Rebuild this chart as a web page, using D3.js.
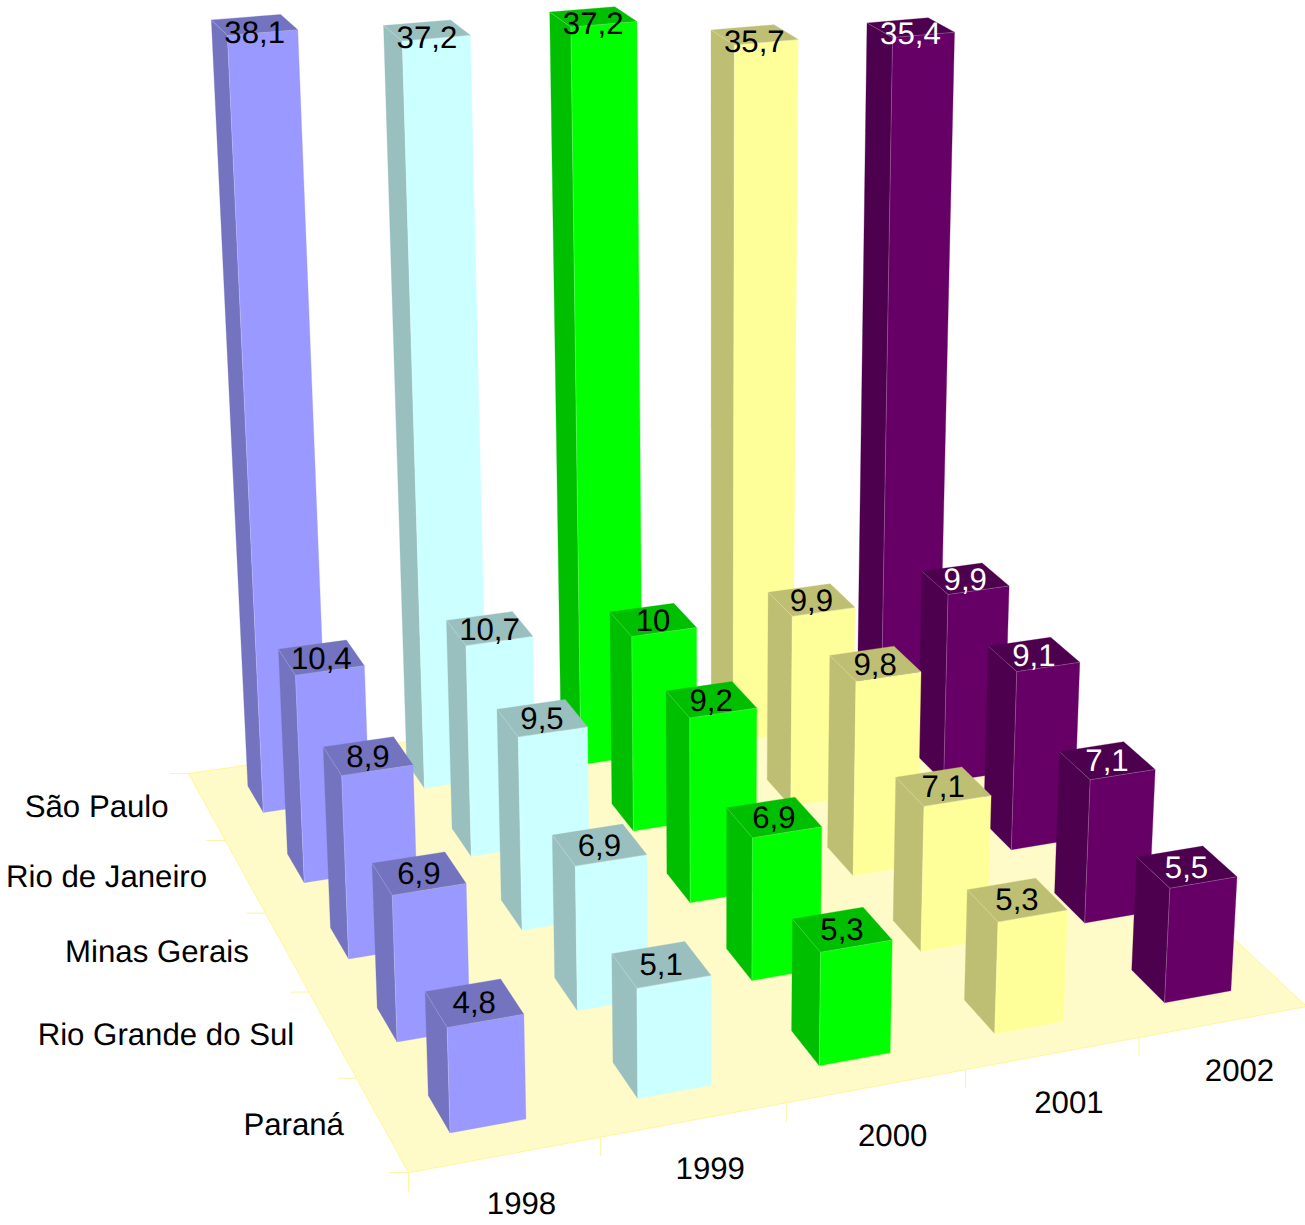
<!DOCTYPE html>
<html lang="pt"><head><meta charset="utf-8"><title>Participação por estado</title>
<script src="https://cdn.jsdelivr.net/npm/d3@7"></script>
<style>
html,body{margin:0;padding:0;background:#fff}
svg{display:block}
text{font-family:"Liberation Sans",Arial,sans-serif;font-size:31.2px;text-rendering:geometricPrecision}
</style></head><body>
<svg id="chart" width="1305" height="1225"></svg>
<script>
// Categories, front row of the floor first
const years = ["1998", "1999", "2000", "2001", "2002"];
const states = ["Paraná", "Rio Grande do Sul", "Minas Gerais", "Rio de Janeiro", "São Paulo"];

// Values per year, in the order of `states`
const values1998 = [4.8, 6.9, 8.9, 10.4, 38.1];
const values1999 = [5.1, 6.9, 9.5, 10.7, 37.2];
const values2000 = [5.3, 6.9, 9.2, 10, 37.2];
const values2001 = [5.3, 7.1, 9.8, 9.9, 35.7];
const values2002 = [5.5, 7.1, 9.1, 9.9, 35.4];
const seriesValues = [values1998, values1999, values2000, values2001, values2002];

// Front and label colours per year; sides and tops are a darker shade
const frontColors = ["#9999ff", "#ccffff", "#00ff00", "#ffff99", "#660066"];
const labelColors = ["#000", "#000", "#000", "#000", "#fff"];

const x = d3.scaleBand().domain(years).range([0, 5]);
const y = d3.scaleBand().domain(states).range([0, 5]);
const z = d3.scaleLinear().domain([0, 1]).range([0, 1]);
const darken = c => { const r = d3.rgb(c); return d3.rgb(r.r * .75, r.g * .75, r.b * .75).formatHex(); };

// Perspective camera: homogeneous 3×4 matrix from world units to the page
const cam = [
  [202.71874, -34.951456, -1.6765341, 408.61256],
  [-15.434361, -42.657139, -24.797654, 1172.6692],
  [0.017681418, 0.048021447, -0.0023436302, 1]
];
function project(X, Y, Z) {
  const h = r => r[0] * X + r[1] * Y + r[2] * Z + r[3];
  const w = h(cam[2]);
  return [h(cam[0]) / w, h(cam[1]) / w];
}

const svg = d3.select("#chart");
const polygon = pts => pts.map(p => p.map(n => n.toFixed(2)).join(",")).join(" ");
const tickLength = 19, edgeColor = "#fff59a";

// Floor with its edge
svg.append("polygon")
  .attr("points", polygon([project(0, 0, 0), project(5, 0, 0), project(5, 5, 0), project(0, 5, 0)]))
  .attr("fill", "#fffbc8").attr("stroke", edgeColor).attr("stroke-width", 1);

// Axis ticks along the two outer floor edges
const ticks = svg.append("g").attr("stroke", edgeColor).attr("stroke-width", 1);
ticks.selectAll("line.year").data(d3.range(0, 6)).join("line").attr("class", "year")
  .each(function (d) {
    const [a, b] = project(d, 0, 0);
    d3.select(this).attr("x1", a).attr("y1", b).attr("x2", a).attr("y2", b + tickLength);
  });
ticks.selectAll("line.state").data(d3.range(0, 6)).join("line").attr("class", "state")
  .each(function (d) {
    const [a, b] = project(0, d, 0);
    d3.select(this).attr("x1", a).attr("y1", b).attr("x2", a - tickLength).attr("y2", b);
  });

// Axis labels
svg.append("g").selectAll("text").data(years).join("text")
  .attr("text-anchor", "middle").attr("dominant-baseline", "central")
  .attr("x", d => project(x(d) + x.bandwidth() / 2, 0, 0)[0] + 16)
  .attr("y", d => project(x(d) + x.bandwidth() / 2, 0, 0)[1] + 49)
  .text(d => d);
svg.append("g").selectAll("text").data(states).join("text")
  .attr("text-anchor", "end").attr("dominant-baseline", "central")
  .attr("x", d => project(0, y(d) + y.bandwidth() / 2, 0)[0] - 38)
  .attr("y", d => project(0, y(d) + y.bandwidth() / 2, 0)[1])
  .text(d => d);

// One record per bar, painted from the far row to the near one, right to left
const half = 0.2;
const bars = [];
states.forEach((state, r) => years.forEach((year, c) =>
  bars.push({ state, year, c, r, value: seriesValues[c][r] })));
bars.sort((a, b) => d3.descending(a.r, b.r) || d3.descending(a.c, b.c));

const barGroups = svg.append("g").selectAll("g").data(bars).join("g");
barGroups.each(function (d) {
  const g = d3.select(this);
  const x0 = x(d.year) + .5 - half, x1 = x(d.year) + .5 + half;
  const y0 = y(d.state) + .5 - half, y1 = y(d.state) + .5 + half;
  const top = z(d.value), face = frontColors[d.c], side = darken(face);
  const faces = [
    { fill: side, pts: [[x0, y1, 0], [x0, y0, 0], [x0, y0, top], [x0, y1, top]] },
    { fill: face, pts: [[x0, y0, 0], [x1, y0, 0], [x1, y0, top], [x0, y0, top]] },
    { fill: side, pts: [[x0, y0, top], [x1, y0, top], [x1, y1, top], [x0, y1, top]] }
  ];
  g.selectAll("polygon").data(faces).join("polygon")
    .attr("points", f => polygon(f.pts.map(p => project(...p))))
    .attr("fill", f => f.fill)
    .attr("stroke", f => f.fill).attr("stroke-width", .3);

  // Fine highlight along the three edges that meet at the near top corner
  const corner = [x0, y0, top];
  const edges = [[x0, y0, 0], [x0, y1, top], [x1, y0, top]];
  g.selectAll("line").data(edges).join("line")
    .attr("x1", project(...corner)[0]).attr("y1", project(...corner)[1])
    .attr("x2", e => project(...e)[0]).attr("y2", e => project(...e)[1])
    .attr("stroke", "#fff").attr("stroke-opacity", .3).attr("stroke-width", .7);

  const [lx, ly] = project(x(d.year) + .5, y(d.state) + .5, top * .99);
  g.append("text")
    .attr("x", lx).attr("y", ly - 1)
    .attr("text-anchor", "middle").attr("dominant-baseline", "central")
    .attr("fill", labelColors[d.c])
    .text(String(d.value).replace(".", ","));
});
</script></body></html>
